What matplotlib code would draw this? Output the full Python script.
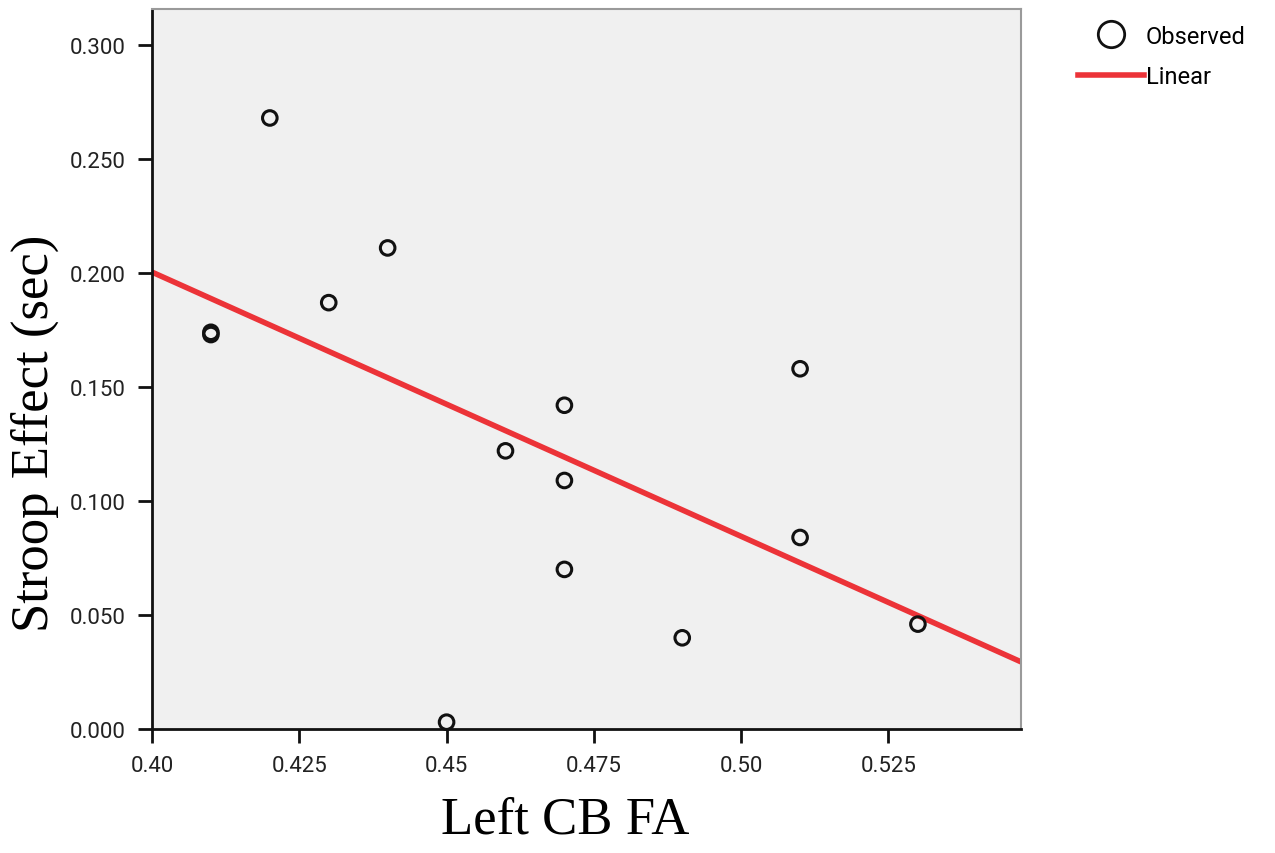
import matplotlib
matplotlib.use("Agg")
import matplotlib.pyplot as plt
from matplotlib.lines import Line2D
import numpy as np

# values
left_cb_fa = [0.41, 0.41, 0.42, 0.43, 0.44, 0.45, 0.46, 0.47, 0.47, 0.47, 0.49, 0.51, 0.51, 0.53]
stroop_sec = [0.173, 0.174, 0.268, 0.187, 0.211, 0.003, 0.122, 0.142, 0.109, 0.070, 0.040, 0.158, 0.084, 0.046]

# fit line as drawn in the chart
fit_intercept = 0.664
fit_slope = -1.159

x_ticks = [0.40, 0.425, 0.45, 0.475, 0.50, 0.525]
x_tick_labels = ["0.40", "0.425", "0.45", "0.475", "0.50", "0.525"]
y_ticks = [0.0, 0.05, 0.10, 0.15, 0.20, 0.25, 0.30]
y_tick_labels = ["0.000", "0.050", "0.100", "0.150", "0.200", "0.250", "0.300"]

plt.rcParams["font.family"] = ["Roboto", "DejaVu Sans"]

fig = plt.figure(figsize=(12.75, 8.54), dpi=100)
ax = fig.add_axes([0.1192, 0.1452, 0.6816, 0.8431])
ax.set_facecolor("#f0f0f0")

xlim = (0.40, 0.5475)
ax.set_xlim(*xlim)
ax.set_ylim(0.0, 0.3158)

xs = np.array(xlim)
ax.plot(xs, fit_intercept + fit_slope * xs, color="#ec3338", lw=4, zorder=2,
        solid_capstyle="butt")
ax.scatter(left_cb_fa, stroop_sec, s=110, facecolors="none", edgecolors="#111111",
           linewidths=2.2, zorder=3, clip_on=False)

ax.set_xticks(x_ticks)
ax.set_xticklabels(x_tick_labels)
ax.set_yticks(y_ticks)
ax.set_yticklabels(y_tick_labels)
ax.tick_params(direction="out", length=10, width=2, labelsize=16, pad=9,
               color="#111111", labelcolor="#222222")

for side in ["left", "bottom"]:
    ax.spines[side].set_color("#111111")
    ax.spines[side].set_linewidth(2)
for side in ["top", "right"]:
    ax.spines[side].set_color("#9a9a9a")
    ax.spines[side].set_linewidth(1.5)

ax.set_xlabel("Left CB FA", family="Liberation Serif", fontsize=38)
ax.set_ylabel("Stroop Effect (sec)", family="Liberation Serif", fontsize=38)
ax.xaxis.set_label_coords(0.475, -0.125)
ax.xaxis.label.set_va("center")
ax.yaxis.set_label_coords(-0.135, 0.412)
ax.yaxis.label.set_va("center")

handles = [
    Line2D([], [], marker="o", linestyle="none", markersize=19, markerfacecolor="none",
           markeredgecolor="#111111", markeredgewidth=2),
    Line2D([], [], color="#ec3338", lw=4),
]
fig.legend(handles, ["Observed", "Linear"], loc="upper left",
           bbox_to_anchor=(0.829, 0.995), frameon=False, fontsize=17,
           handlelength=2.8, handletextpad=0.05, labelspacing=0.75)

fig.savefig("out.png", dpi=100)
